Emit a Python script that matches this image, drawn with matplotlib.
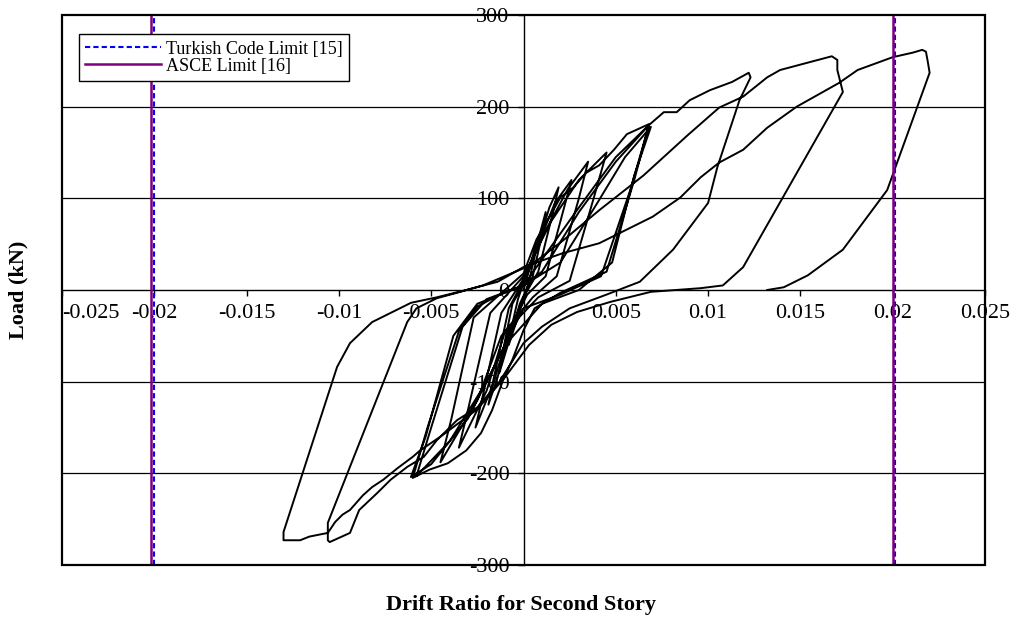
import numpy as np
import matplotlib.pyplot as plt
from matplotlib.patches import Rectangle

plt.rcParams['font.family'] = ['Liberation Serif', 'DejaVu Serif']

# Drift ratio / load history (one array per stage)
drift_early = [0, 0.0004, 0.0008, 0.0007, 0.0003, 0.0, -0.0004, -0.0008, -0.0007, -0.0003, 0.0,
               0.0006, 0.0012, 0.001, 0.0005, -0.0002, -0.0007, -0.0013, -0.0011, -0.0006, 0.0001,
               0.0008, 0.0014, 0.0019, 0.0016, 0.0008, 0.0, -0.0008, -0.0014, -0.0019, -0.0016, -0.0008, 0.0,
               0.0009, 0.0017, 0.0026, 0.0022, 0.0012, 0.0002, -0.0008, -0.0016, -0.0026, -0.0022, -0.0012, 0.0,
               0.0012, 0.0024, 0.0035, 0.003, 0.0018, 0.0005, -0.001, -0.002, -0.0035, -0.003, -0.0018, 0.0,
               0.0015, 0.003, 0.0045, 0.0038, 0.0025, 0.0008, -0.0012, -0.0025, -0.0045, -0.0039, -0.0027, 0.0]
load_early = [0, 30, 58, 45, 10, -10, -35, -60, -45, -10, 8,
              40, 85, 60, 15, -15, -50, -90, -65, -15, 10,
              50, 90, 112, 85, 20, -8, -50, -95, -125, -95, -20, 10,
              55, 95, 120, 90, 15, -5, -45, -100, -150, -115, -25, 12,
              65, 110, 140, 100, 15, -8, -45, -110, -172, -130, -25, 15,
              75, 120, 150, 100, 10, -8, -50, -120, -188, -140, -30, 18]

drift_mid = [0.0007, 0.0013, 0.002, 0.0027, 0.0034, 0.0041, 0.0049, 0.0056, 0.0068,
             0.006, 0.0045, 0.002, 0.0006, 0.0, -0.0006, -0.0011, -0.0017, -0.0023, -0.0031,
             -0.0041, -0.0051, -0.006, -0.0052, -0.0035, -0.0025, -0.001, 0.0,
             0.001, 0.003, 0.005, 0.0068, 0.0058, 0.0042, 0.002, 0.0, -0.002, -0.004, -0.0058,
             -0.005, -0.0033, -0.002, 0.0,
             0.002, 0.004, 0.0055, 0.0069, 0.006, 0.0048, 0.003, 0.001, -0.001, -0.003, -0.005,
             -0.0061, -0.0053, -0.0038, -0.0025, 0.0]
load_mid = [55, 76, 101, 112, 128, 136, 153, 170, 181,
            120, 20, -3, -20, -44, -76, -98, -131, -156, -175,
            -189, -196, -205, -150, -45, -18, -2, 5,
            20, 85, 140, 180, 110, 15, -5, -20, -100, -165, -203,
            -150, -40, -10, 5,
            30, 95, 145, 178, 125, 30, 0, -15, -60, -140, -190,
            -204, -160, -50, -15, 5]

drift_c012 = [0.003, 0.005, 0.0068, 0.0076, 0.0083, 0.009, 0.0101, 0.0113, 0.0122,
              0.0123, 0.0117, 0.0105, 0.01, 0.0081, 0.0063, 0.0045, 0.0025, 0.001, 0.0,
              -0.0013, -0.0025, -0.0036, -0.0047, -0.0054, -0.0063, -0.0072, -0.0079, -0.0089,
              -0.0094, -0.0105, -0.0106, -0.0106,
              -0.0063, -0.0058, -0.0047, -0.0036, -0.0022, 0.0004, 0.0022, 0.0041, 0.0065,
              0.0089, 0.0106, 0.0119, 0.0132, 0.0139, 0.0167, 0.017, 0.017, 0.0173]
load_c012 = [90, 145, 180, 194, 194, 207, 218, 227, 237,
             232, 207, 134, 95, 44, 9, -5, -20, -40, -58,
             -100, -128, -142, -164, -182, -193, -207, -221, -240,
             -265, -275, -273, -254,
             -35, -20, -9, -3, 5, 27, 55, 87, 125,
             169, 199, 211, 232, 240, 255, 251, 240, 216]

drift_c017 = [0.0119, 0.0108, 0.0096, 0.0069, 0.0047, 0.0029, 0.0015, 0.0003, -0.001,
              -0.0025, -0.0045, -0.0056, -0.006, -0.0068, -0.0076, -0.0082, -0.0087, -0.0094,
              -0.0098, -0.0102, -0.0106, -0.0116, -0.0121, -0.013, -0.013]
load_c017 = [25, 5, 2, -2, -13, -24, -38, -60, -95,
             -130, -160, -175, -182, -194, -207, -215, -224, -240,
             -245, -253, -265, -269, -273, -273, -264]

drift_c022 = [-0.0101, -0.0094, -0.0082, -0.0071, -0.0061, -0.0047, -0.0031, -0.0014, 0.0,
              0.0021, 0.0041, 0.007, 0.0085, 0.0096, 0.0106, 0.0119, 0.0132, 0.0148, 0.0171,
              0.0181, 0.02, 0.0211, 0.0216, 0.0218, 0.0219, 0.022,
              0.0197, 0.0173, 0.0154, 0.0141, 0.0132]
load_c022 = [-84, -58, -35, -24, -14, -8, 0, 9, 25,
             40, 51, 80, 101, 123, 139, 153, 177, 200, 226,
             240, 254, 259, 262, 260, 249, 237,
             109, 44, 16, 3, 0]

turkish_limit = [-0.02, 0.0201]
asce_limit = [-0.0202, 0.02]

x_ticks = [-0.025, -0.02, -0.015, -0.01, -0.005, 0, 0.005, 0.01, 0.015, 0.02, 0.025]
x_tick_labels = ['-0.025', '-0.02', '-0.015', '-0.01', '-0.005', '', '0.005', '0.01', '0.015', '0.02', '0.025']
y_ticks = [-300, -200, -100, 0, 100, 200, 300]
y_tick_labels = ['-300', '-200', '-100', '0', '100', '200', '300']
grid_loads = [-200, -100, 100, 200]

drift = np.concatenate([drift_early, drift_mid, drift_c012, drift_c017, drift_c022])
load = np.concatenate([load_early, load_mid, load_c012, load_c017, load_c022])

fig = plt.figure(figsize=(10.18, 6.2), dpi=100)
ax = fig.add_axes([0.0609, 0.0887, 0.9067, 0.8871])
ax.set_xlim(-0.025, 0.025)
ax.set_ylim(-300, 300)

for g in grid_loads:
    ax.axhline(g, color='black', lw=0.9, zorder=1)

ax.plot(drift, load, color='black', lw=1.4, zorder=3)

ax.axvline(turkish_limit[0], color='#0000ff', lw=1.5, ls=(0, (2.5, 1.5)), zorder=4,
           label='Turkish Code Limit [15]')
ax.axvline(turkish_limit[1], color='#0000ff', lw=1.5, ls=(0, (2.5, 1.5)), zorder=4)
ax.axvline(asce_limit[0], color='#800080', lw=1.8, zorder=4, label='ASCE Limit [16]')
ax.axvline(asce_limit[1], color='#800080', lw=1.8, zorder=4)

# axes crossing at the origin
ax.spines['left'].set_position(('data', 0))
ax.spines['bottom'].set_position(('data', 0))
ax.spines['top'].set_visible(False)
ax.spines['right'].set_visible(False)
ax.spines['left'].set_linewidth(1.0)
ax.spines['bottom'].set_linewidth(1.0)
ax.add_patch(Rectangle((0, 0), 1, 1, transform=ax.transAxes, fill=False,
                       edgecolor='black', lw=1.6, clip_on=False, zorder=6))

ax.set_xticks(x_ticks)
ax.set_xticklabels(x_tick_labels)
ax.set_yticks(y_ticks)
ax.set_yticklabels(y_tick_labels)
ax.tick_params(axis='both', direction='out', length=4, width=1, labelsize=16, pad=6)
ax.get_xticklabels()[0].set_horizontalalignment('left')

leg = ax.legend(loc='upper left', bbox_to_anchor=(0.018, 0.965), borderaxespad=0,
                fontsize=13, handlelength=4.2, handletextpad=0.3, labelspacing=0.0,
                borderpad=0.35, fancybox=False, framealpha=1, edgecolor='black')
leg.get_frame().set_linewidth(1.0)

fig.text(0.018, 0.532, 'Load (kN)', rotation=90, ha='center', va='center',
         fontsize=16, fontweight='bold')
fig.text(0.512, 0.024, 'Drift Ratio for Second Story', ha='center', va='center',
         fontsize=16, fontweight='bold')

fig.savefig('out.png', dpi=100, facecolor='white')
